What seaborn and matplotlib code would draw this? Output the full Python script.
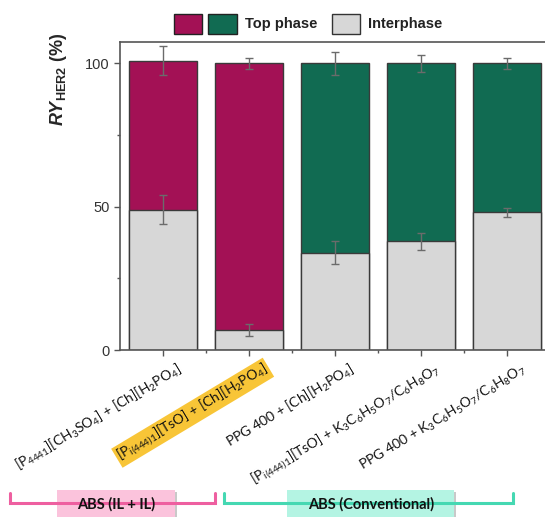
import pandas as pd
import seaborn as sns
import matplotlib.pyplot as plt
from matplotlib.patches import Rectangle
from matplotlib.lines import Line2D
from matplotlib.transforms import ScaledTranslation
from matplotlib.ticker import MultipleLocator


# -------------------------------------------------
# DATA
# -------------------------------------------------

systems = [
    r"[P$_{\mathrm{4441}}$][CH$_{\mathrm{3}}$SO$_{\mathrm{4}}$] + [Ch][H$_{\mathrm{2}}$PO$_{\mathrm{4}}$]",
    r"[P$_{\mathrm{i(444)1}}$][TsO] + [Ch][H$_{\mathrm{2}}$PO$_{\mathrm{4}}$]",
    r"PPG 400 + [Ch][H$_{\mathrm{2}}$PO$_{\mathrm{4}}$]",
    r"[P$_{\mathrm{i(444)1}}$][TsO] + K$_{\mathrm{3}}$C$_{\mathrm{6}}$H$_{\mathrm{5}}$O$_{\mathrm{7}}$/C$_{\mathrm{6}}$H$_{\mathrm{8}}$O$_{\mathrm{7}}$",
    r"PPG 400 + K$_{\mathrm{3}}$C$_{\mathrm{6}}$H$_{\mathrm{5}}$O$_{\mathrm{7}}$/C$_{\mathrm{6}}$H$_{\mathrm{8}}$O$_{\mathrm{7}}$",
]

interphase = [49, 7, 34, 38, 48]
interphase_err = [5, 2, 4, 3, 1.5]

top_phase = [52, 93, 66, 62, 52]
total_err = [5, 2, 4, 3, 2]

groups = ["ABS (IL + IL)", "ABS (Conventional)"]

MAGENTA = "#a31155"
GREEN = "#116b52"
GREY = "#d7d7d7"
top_colors = [MAGENTA, MAGENTA, GREEN, GREEN, GREEN]

df = pd.DataFrame({
    "System": systems,
    "Interphase": interphase,
    "Top": top_phase,
})
df["Total"] = df["Interphase"] + df["Top"]


# -------------------------------------------------
# STYLE
# -------------------------------------------------

sns.set_style("ticks")
plt.rcParams["font.family"] = ["Liberation Sans", "DejaVu Sans"]
plt.rcParams["mathtext.fontset"] = "custom"
plt.rcParams["mathtext.rm"] = "Lato"
plt.rcParams["mathtext.it"] = "Liberation Sans:italic"
plt.rcParams["mathtext.bf"] = "Liberation Sans:bold"
plt.rcParams["mathtext.bfit"] = "Liberation Sans:bold:italic"

W, H = 545, 517
fig = plt.figure(figsize=(W / 100, H / 100), dpi=100)
ax = fig.add_axes([120 / W, 1 - 350 / H, 430 / W, 308 / H])


# -------------------------------------------------
# STACKED BARS
# -------------------------------------------------

sns.barplot(data=df, x="System", y="Total", hue="System", palette=top_colors,
            saturation=1, width=0.8, edgecolor="#3a3a3a", linewidth=1,
            legend=False, ax=ax)
sns.barplot(data=df, x="System", y="Interphase", color=GREY,
            saturation=1, width=0.8, edgecolor="#3a3a3a", linewidth=1, ax=ax)

xs = range(len(systems))
ax.errorbar(xs, df["Total"], yerr=total_err, fmt="none", ecolor="#6b6b6b",
            elinewidth=1, capsize=3, capthick=1, zorder=5)
ax.errorbar(xs, df["Interphase"], yerr=interphase_err, fmt="none", ecolor="#6b6b6b",
            elinewidth=1, capsize=3, capthick=1, zorder=5)


# -------------------------------------------------
# AXES
# -------------------------------------------------

ax.set_xlim(-0.5, 4.5)
ax.set_ylim(0, 107.5)
ax.set_yticks([0, 50, 100])
ax.yaxis.set_minor_locator(MultipleLocator(25))
ax.set_xticks(list(xs))
ax.set_xticks([0.5, 1.5, 2.5, 3.5], minor=True)

for s in ax.spines.values():
    s.set_color("#555555")
    s.set_linewidth(1.2)

ax.tick_params(axis="both", which="major", length=4, width=1, color="#555555")
ax.tick_params(axis="both", which="minor", length=2.5, width=1, color="#555555")
ax.tick_params(axis="y", labelsize=10.5, labelcolor="#333333")

ax.set_xlabel("")
ax.set_ylabel(r"$\mathbfit{RY}_{\mathbf{HER2}}$ (%)", fontsize=13, fontweight="bold")
ax.yaxis.set_label_coords(-0.118, 0.88)

ax.set_xticks(list(xs))
ax.set_xticklabels(systems, rotation=31, rotation_mode="anchor", ha="right",
                   va="center", fontsize=10, family="Lato", color="#111111")
ax.tick_params(axis="x", pad=9)
shift = ScaledTranslation(0.18, 0, fig.dpi_scale_trans)
for i, lab in enumerate(ax.get_xticklabels()):
    lab.set_transform(lab.get_transform() + shift)
    if i == 1:
        lab.set_bbox(dict(boxstyle="square,pad=0.12", fc="#f8c537", ec="none"))


# -------------------------------------------------
# LEGEND (drawn in figure pixels)
# -------------------------------------------------

def fig_rect(x0, y0, x1, y1, **kw):
    fig.add_artist(Rectangle((x0 / W, 1 - y1 / H), (x1 - x0) / W, (y1 - y0) / H,
                             transform=fig.transFigure, **kw))

fig_rect(174, 14, 202, 34, fc=MAGENTA, ec="#222222", lw=1)
fig_rect(208, 14, 237, 34, fc=GREEN, ec="#222222", lw=1)
fig.text(245 / W, 1 - 24 / H, "Top phase", fontsize=10.5, fontweight="bold",
         va="center", ha="left", color="#222222")
fig_rect(332, 14, 360, 34, fc=GREY, ec="#333333", lw=1)
fig.text(368 / W, 1 - 24 / H, "Interphase", fontsize=10.5, fontweight="bold",
         va="center", ha="left", color="#222222")


# -------------------------------------------------
# GROUP BRACKETS
# -------------------------------------------------

def bracket(x0, x1, color):
    ys = [1 - 493 / H, 1 - 503 / H, 1 - 503 / H, 1 - 493 / H]
    fig.add_artist(Line2D([x0 / W, x0 / W, x1 / W, x1 / W], ys, color=color,
                          lw=2.2, transform=fig.transFigure, solid_joinstyle="miter"))

bracket(10, 215, "#ee5fa0")
bracket(224, 513, "#45d8b2")

fig_rect(59, 492, 177, 519, fc="#c9c9c9", ec="none")
fig_rect(57, 490, 175, 517, fc="#fbc3dc", ec="none")
fig.text(116 / W, 1 - 504 / H, groups[0], fontsize=10.5, fontweight="bold",
         family="Lato", ha="center", va="center", color="#111111")

fig_rect(289, 492, 456, 519, fc="#c9c9c9", ec="none")
fig_rect(287, 490, 454, 517, fc="#b4f4e3", ec="none")
fig.text(371 / W, 1 - 504 / H, groups[1], fontsize=10.5, fontweight="bold",
         family="Lato", ha="center", va="center", color="#111111")

fig.savefig("out.png", dpi=100)
